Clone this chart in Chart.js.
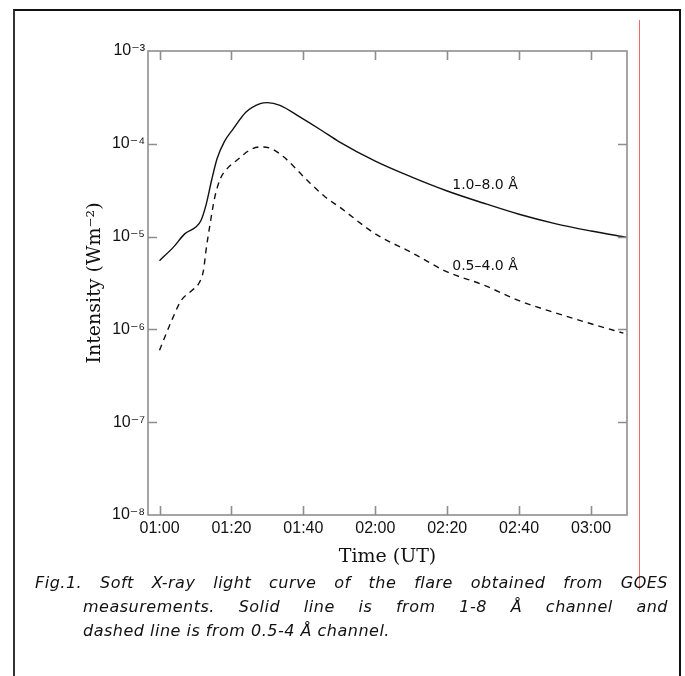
<!DOCTYPE html>
<html>
<head>
<meta charset="utf-8">
<script src="https://cdn.jsdelivr.net/npm/chart.js@4.4.0/dist/chart.umd.min.js"></script>
<style>
  html, body { margin:0; padding:0; background:#fff; width:685px; height:676px; overflow:hidden; }
  .box { position:absolute; left:13px; top:9px; width:664px; height:700px; border:2px solid #111; border-left-color:#333; }
  .redline { position:absolute; left:639px; top:20px; width:1px; height:570px; background:#f06a6a; }
  #chartWrap { position:absolute; left:0; top:0; width:685px; height:580px; }
  .caption { position:absolute; left:35px; top:571px; width:633px; font-family:'DejaVu Sans', sans-serif; font-style:italic; font-size:16px; letter-spacing:0.5px; color:#111; }
  .caption div { height:24px; line-height:24px; white-space:nowrap; }
  .caption .j { text-align:justify; text-align-last:justify; white-space:normal; overflow:hidden; }
  .caption .ind { margin-left:48px; }
</style>
</head>
<body>
<div class="box"></div>
<div class="redline"></div>
<div id="chartWrap"><canvas id="goes" width="685" height="580"></canvas></div>
<div class="caption">
  <div class="j">Fig.1. Soft X-ray light curve of the flare obtained from GOES</div>
  <div class="j ind">measurements. Solid line is from 1-8 Å channel and</div>
  <div class="ind">dashed line is from 0.5-4 Å channel.</div>
</div>
<script>
// ---- data (minutes after 01:00 UT, intensity in W m^-2) ----
const solidT = [0, 4, 7, 10, 11.5, 13, 14.5, 16, 18, 20.5, 24, 28, 30, 33.5, 39, 45, 50, 60, 70, 80, 90, 100, 110, 120, 130];
const solidI = [5.5e-6, 7.8e-6, 1.07e-5, 1.26e-5, 1.48e-5, 2.24e-5, 4.07e-5, 6.9e-5, 1.05e-4, 1.45e-4, 2.19e-4, 2.71e-4, 2.78e-4, 2.6e-4, 1.95e-4, 1.4e-4, 1.05e-4, 6.5e-5, 4.4e-5, 3.1e-5, 2.3e-5, 1.74e-5, 1.38e-5, 1.15e-5, 9.8e-6];

const dashedT = [0, 3, 6, 9, 11, 12.2, 13, 14, 15.4, 17, 19, 21.5, 25, 28, 31, 34.5, 41, 46, 50, 60, 70, 80, 90, 100, 110, 120, 129];
const dashedI = [5.96e-7, 1.15e-6, 2.04e-6, 2.63e-6, 3.16e-6, 4.27e-6, 7.41e-6, 1.32e-5, 2.69e-5, 4.27e-5, 5.5e-5, 6.64e-5, 8.51e-5, 9.25e-5, 8.91e-5, 7.24e-5, 4.07e-5, 2.69e-5, 2.09e-5, 1.07e-5, 6.76e-6, 4.17e-6, 3.02e-6, 2.04e-6, 1.51e-6, 1.15e-6, 9.12e-7];

const xTickMin = [0, 20, 40, 60, 80, 100, 120];
const xTickLabels = ['01:00', '01:20', '01:40', '02:00', '02:20', '02:40', '03:00'];
const yTickVals = [1e-8, 1e-7, 1e-6, 1e-5, 1e-4, 1e-3];
const yTickLabels = ['10⁻⁸', '10⁻⁷', '10⁻⁶', '10⁻⁵', '10⁻⁴', '10⁻³'];

const chanLabels = ['1.0–8.0 Å', '0.5–4.0 Å'];
const chanLabelT = [81.4, 81.4];
const chanLabelI = [3.57e-5, 4.82e-6];

const AXIS = '#8e8e8e';
const TICKFONT = {family:"'Liberation Sans', 'DejaVu Sans', sans-serif", size:16};
const TITLEFONT = {family:"'DejaVu Serif', serif", size:19};

// ---- frame, inward ticks and channel labels ----
const framePlugin = {
  id:'frame',
  afterDatasetsDraw(chart){
    const {ctx, chartArea:a, scales:{x, y}} = chart;
    ctx.save();
    ctx.strokeStyle = AXIS;
    ctx.lineWidth = 1.6;
    ctx.strokeRect(a.left, a.top, a.right - a.left, a.bottom - a.top);
    ctx.beginPath();
    x.ticks.forEach(t => {
      const px = Math.round(x.getPixelForValue(t.value)) + 0.5;
      ctx.moveTo(px, a.bottom); ctx.lineTo(px, a.bottom - 9);
      ctx.moveTo(px, a.top); ctx.lineTo(px, a.top + 9);
    });
    y.ticks.forEach(t => {
      const py = Math.round(y.getPixelForValue(t.value)) + 0.5;
      if(py < a.top + 2 || py > a.bottom - 2) return;
      ctx.moveTo(a.left, py); ctx.lineTo(a.left + 9, py);
      ctx.moveTo(a.right, py); ctx.lineTo(a.right - 9, py);
    });
    ctx.stroke();

    // channel names next to the curves
    ctx.fillStyle = '#111';
    ctx.font = "14px 'DejaVu Sans', sans-serif";
    ctx.textAlign = 'left';
    ctx.textBaseline = 'middle';
    chanLabels.forEach((txt, i) => {
      ctx.fillText(txt, x.getPixelForValue(chanLabelT[i]), y.getPixelForValue(chanLabelI[i]));
    });
    ctx.restore();
  }
};

const toXY = (ts, vs) => ts.map((t, i) => ({x:t, y:vs[i]}));

new Chart(document.getElementById('goes').getContext('2d'), {
  type:'line',
  data:{ datasets:[
    {label:'1.0-8.0 Å', data:toXY(solidT, solidI), borderColor:'#111', borderWidth:1.4, pointRadius:0, cubicInterpolationMode:'monotone', fill:false},
    {label:'0.5-4.0 Å', data:toXY(dashedT, dashedI), borderColor:'#111', borderWidth:1.4, borderDash:[6,5], pointRadius:0, cubicInterpolationMode:'monotone', fill:false}
  ]},
  options:{
    responsive:false, animation:false, devicePixelRatio:1,
    layout:{ padding:{left:0, top:51, right:58, bottom:0} },
    plugins:{ legend:{display:false}, tooltip:{enabled:false} },
    scales:{
      x:{
        type:'linear', min:-3.2, max:130,
        grid:{display:false, drawTicks:false}, border:{display:false},
        afterBuildTicks: s => { s.ticks = xTickMin.map(v => ({value:v})); },
        afterFit: s => { s.height = 65; },
        ticks:{ padding:4, color:'#111', font:TICKFONT, maxRotation:0, autoSkip:false,
          callback:(v) => xTickLabels[xTickMin.indexOf(v)] },
        title:{ display:true, text:'Time (UT)', color:'#111', font:TITLEFONT, padding:{top:0, bottom:12} }
      },
      y:{
        type:'logarithmic', min:1e-8, max:1e-3,
        grid:{display:false, drawTicks:false}, border:{display:false},
        afterBuildTicks: s => { s.ticks = yTickVals.map(v => ({value:v})); },
        afterFit: s => { s.width = 148; },
        ticks:{ padding:3, color:'#111', font:TICKFONT, autoSkip:false,
          callback:(v) => yTickLabels[yTickVals.findIndex(d => Math.abs(Math.log10(d) - Math.log10(v)) < 1e-6)] },
        title:{ display:true, text:'Intensity (Wm⁻²)', color:'#111', font:TITLEFONT, padding:{top:84, bottom:0} }
      }
    }
  },
  plugins:[framePlugin]
});
</script>
</body>
</html>
